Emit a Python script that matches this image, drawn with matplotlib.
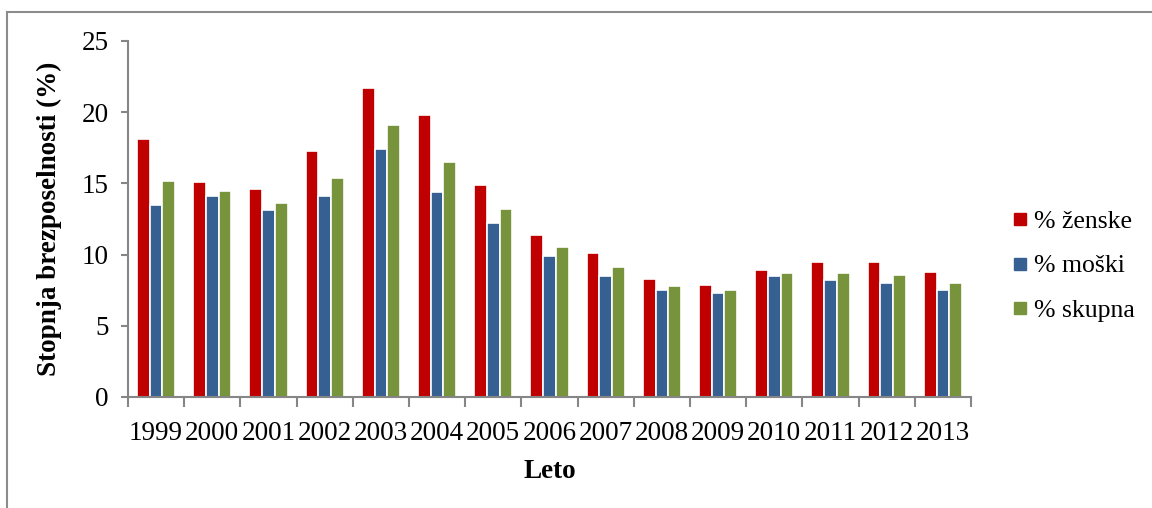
import matplotlib.pyplot as plt
import numpy as np
from matplotlib.lines import Line2D

years = ["1999", "2000", "2001", "2002", "2003", "2004", "2005", "2006",
         "2007", "2008", "2009", "2010", "2011", "2012", "2013"]
zenske = [18.1, 15.1, 14.6, 17.3, 21.7, 19.8, 14.9, 11.4, 10.1, 8.3, 7.9, 8.9, 9.5, 9.5, 8.8]
moski = [13.5, 14.1, 13.1, 14.1, 17.4, 14.4, 12.2, 9.9, 8.5, 7.5, 7.3, 8.5, 8.2, 8.0, 7.5]
skupna = [15.2, 14.5, 13.6, 15.4, 19.1, 16.5, 13.2, 10.5, 9.1, 7.8, 7.5, 8.7, 8.7, 8.6, 8.0]

series = [
    ("% ženske", zenske, "#C00000"),
    ("% moški", moski, "#376092"),
    ("% skupna", skupna, "#77933C"),
]

plt.rcParams["font.family"] = ["Liberation Serif", "DejaVu Serif"]
fs = 19.5
W, H = 1152, 508
fig = plt.figure(figsize=(W / 100, H / 100), dpi=100)
ax = fig.add_axes([128 / W, 1 - 397 / H, (971 - 128) / W, (397 - 41) / H])

x = np.arange(len(years))
step = 0.226
handles = []
for i, (label, values, color) in enumerate(series):
    ax.bar(x + (i - 1) * step, values, width=step, color=color,
           edgecolor="white", linewidth=1.2, label=label)
    handles.append(Line2D([], [], marker="s", linestyle="none", color=color,
                          markersize=8, label=label))

gray = "#868686"
ax.set_xlim(-0.5, len(years) - 0.5)
ax.set_ylim(0, 25)
ax.set_yticks(range(0, 26, 5))
ax.set_xticks(x)
ax.set_xticklabels(years)
ax.set_xticks(np.arange(-0.5, len(years)), minor=True)
ax.tick_params(axis="x", which="major", length=0, labelsize=fs, pad=17)
ax.tick_params(axis="x", which="minor", length=7, width=1.5, color=gray)
ax.tick_params(axis="y", length=5, width=1.5, color=gray, labelsize=fs, pad=9)
for side in ["top", "right"]:
    ax.spines[side].set_visible(False)
for side in ["left", "bottom"]:
    ax.spines[side].set_color(gray)
    ax.spines[side].set_linewidth(1.5)

ax.set_xlabel("Leto", fontsize=fs, fontweight="bold", labelpad=10)
ax.set_ylabel("Stopnja brezposelnosti (%)", fontsize=fs, fontweight="bold", labelpad=14)

fig.legend(handles=handles, loc="center left", bbox_to_anchor=(990 / W, 1 - 266 / H),
           frameon=False, fontsize=18.5, handlelength=0.5, handletextpad=0.3,
           labelspacing=0.85)

# chart border (only top and left edges are visible in the crop)
fig.add_artist(Line2D([7 / W, 1], [1 - 12 / H, 1 - 12 / H], color="#8c8c8c", linewidth=1.5))
fig.add_artist(Line2D([7 / W, 7 / W], [0, 1 - 12 / H], color="#8c8c8c", linewidth=1.5))

fig.savefig("out.png", dpi=100)
